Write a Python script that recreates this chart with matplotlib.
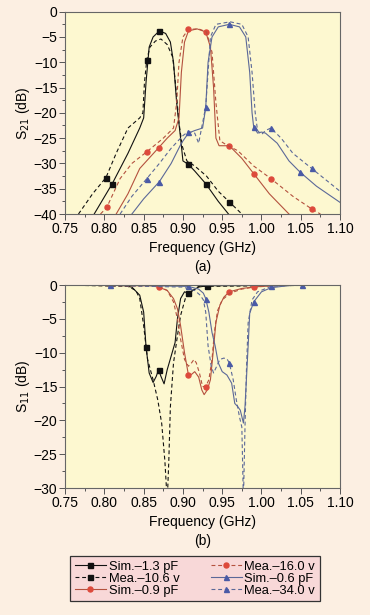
import matplotlib
matplotlib.use('Agg')
from matplotlib import pyplot as plt
from matplotlib.ticker import MultipleLocator

# ---- S21 (panel a) ----
f21_sim_k = [0.787, 0.81, 0.83, 0.845, 0.850, 0.853, 0.857, 0.862, 0.870, 0.878, 0.884, 0.888,
             0.892, 0.897, 0.900, 0.907, 0.915, 0.929, 0.945, 0.958]
s21_sim_k = [-40, -34, -28, -23, -21, -14, -7, -5, -3.8, -4.3, -6, -10,
             -18, -25, -29.5, -30.2, -31.5, -34, -37.5, -40]
f21_mea_k = [0.767, 0.785, 0.802, 0.815, 0.83, 0.845, 0.849, 0.851, 0.854, 0.858, 0.865, 0.872,
             0.880, 0.887, 0.891, 0.895, 0.899, 0.905, 0.915, 0.930, 0.945, 0.959, 0.975]
s21_mea_k = [-40, -36, -32.8, -28, -23, -21, -20, -14, -9.5, -7, -5.8, -5.4,
             -6.5, -9, -15, -22, -26.5, -29.5, -30.5, -32.5, -35.5, -37.6, -40]

f21_sim_r = [0.815, 0.83, 0.845, 0.869, 0.88, 0.89, 0.895, 0.898, 0.902, 0.907, 0.918, 0.929,
             0.935, 0.939, 0.942, 0.946, 0.959, 0.975, 0.990, 1.010, 1.035]
s21_sim_r = [-40, -36, -31, -26.9, -25, -23.5, -21, -12, -6, -3.8, -3.4, -4.0,
             -7, -15, -25, -26.5, -26.5, -29, -32, -36, -40]
f21_mea_r = [0.795, 0.803, 0.82, 0.835, 0.854, 0.875, 0.888, 0.892, 0.895, 0.900, 0.907, 0.920,
             0.930, 0.937, 0.942, 0.947, 0.955, 0.970, 0.990, 1.012, 1.040, 1.064, 1.075]
s21_mea_r = [-40, -38.7, -33, -30, -27.7, -25, -23, -18, -10, -5, -3.5, -3.4,
             -4.0, -8, -18, -25.5, -26.3, -27.5, -30.5, -33, -36.5, -39, -40]

f21_sim_b = [0.835, 0.85, 0.870, 0.885, 0.898, 0.907, 0.915, 0.925, 0.929, 0.932, 0.937, 0.945,
             0.959, 0.972, 0.980, 0.985, 0.988, 0.990, 0.995, 1.000, 1.005, 1.020, 1.035, 1.049,
             1.070, 1.100]
s21_sim_b = [-40, -37, -33.6, -30, -26, -24, -23.5, -23, -19, -10, -5, -3,
             -2.5, -3, -5, -12, -20, -22.7, -24, -23.8, -24, -26, -29.5, -31.7,
             -34.5, -37.7]
f21_mea_b = [0.82, 0.835, 0.854, 0.87, 0.885, 0.90, 0.907, 0.915, 0.92, 0.925, 0.929, 0.932,
             0.935, 0.942, 0.96, 0.975, 0.983, 0.988, 0.992, 0.995, 1.000, 1.005, 1.012, 1.025,
             1.040, 1.064, 1.080, 1.100]
s21_mea_b = [-40, -36.5, -33, -30, -27, -24.5, -23.7, -24, -26, -22, -18.8, -12,
             -5, -2.5, -2.0, -2.5, -5, -12, -20, -23.5, -24.3, -23.5, -23, -25,
             -28, -31, -33, -35.5]

# ---- S11 (panel b) ----
f11_sim_k = [0.75, 0.82, 0.835, 0.845, 0.850, 0.853, 0.857, 0.862, 0.866, 0.869, 0.872, 0.876,
             0.880, 0.885, 0.890, 0.893, 0.897, 0.902, 0.907, 0.920, 0.931, 1.10]
s11_sim_k = [0, 0, -0.3, -1.5, -4, -9.1, -13, -14.4, -13.5, -12.5, -13.5, -14.6,
             -12.5, -10.5, -8.5, -5, -2, -1.0, -1.2, -0.3, -0.1, 0]
f11_mea_k = [0.75, 0.83, 0.84, 0.845, 0.850, 0.853, 0.855, 0.862, 0.868, 0.873, 0.877, 0.880,
             0.882, 0.884, 0.888, 0.893, 0.897, 0.903, 0.907, 0.920, 1.10]
s11_mea_k = [0, -0.2, -0.8, -2, -6, -9.1, -11, -14, -17, -20.5, -26, -32,
             -26, -18, -11.5, -7.5, -4.5, -2, -1.2, -0.2, 0]

f11_sim_r = [0.75, 0.86, 0.869, 0.88, 0.888, 0.893, 0.897, 0.902, 0.907, 0.911, 0.915, 0.920,
             0.924, 0.927, 0.931, 0.935, 0.938, 0.942, 0.947, 0.952, 0.959, 0.975, 0.990, 1.02,
             1.10]
s11_sim_r = [0, -0.1, -0.3, -0.8, -2, -3.5, -6, -10, -13.3, -13.2, -12.8, -13.6,
             -15.5, -16.2, -15.5, -14, -10.5, -5.5, -3, -1.8, -1.0, -0.5, -0.3, 0,
             0]
f11_mea_r = [0.75, 0.87, 0.88, 0.888, 0.893, 0.897, 0.902, 0.907, 0.911, 0.914, 0.917, 0.921,
             0.925, 0.929, 0.933, 0.937, 0.940, 0.944, 0.950, 0.960, 0.975, 0.990, 1.03, 1.10]
s11_mea_r = [0, -0.2, -0.8, -2.5, -5, -8, -11, -12, -11.5, -11, -11.5, -13,
             -15, -15, -14, -11, -7, -3.8, -2.2, -1.2, -0.6, -0.3, 0, 0]

f11_sim_b = [0.75, 0.807, 0.907, 0.92, 0.926, 0.929, 0.933, 0.937, 0.941, 0.945, 0.950, 0.956,
             0.962, 0.966, 0.970, 0.973, 0.977, 0.979, 0.981, 0.983, 0.985, 0.990, 1.000, 1.012,
             1.04, 1.10]
s11_sim_b = [0, 0, -0.2, -0.6, -1.2, -2, -4, -7, -9, -11.5, -12.8, -13.3,
             -14.5, -17.5, -18, -18.5, -20.4, -18, -13.5, -9, -4.2, -2.5, -1.0, -0.4,
             0, 0]
f11_mea_b = [0.75, 0.80, 0.90, 0.915, 0.922, 0.926, 0.929, 0.932, 0.936, 0.939, 0.943, 0.947,
             0.952, 0.956, 0.959, 0.964, 0.968, 0.972, 0.975, 0.977, 0.979, 0.981, 0.983, 0.988,
             0.995, 1.012, 1.051, 1.10]
s11_mea_b = [0, -0.05, -0.3, -0.8, -1.5, -2.2, -4, -9, -12, -13, -12, -11,
             -10.8, -10.9, -11.5, -14, -17, -19.5, -21, -32, -21, -12, -5.6, -2.2,
             -1.0, -0.2, 0, 0]

freq_ticks = [0.75, 0.80, 0.85, 0.90, 0.95, 1.00, 1.05, 1.10]
labels = ['Sim.\u20131.3 pF', 'Mea.\u201310.6 v', 'Sim.\u20130.9 pF',
          'Mea.\u201316.0 v', 'Sim.\u20130.6 pF', 'Mea.\u201334.0 v']

BLACK = '#111111'
RED_LINE = '#b4513e'
RED_MK = '#dd4a3c'
BLUE_LINE = '#5b6898'
BLUE_MK = '#4a5aa6'

plt.rcParams['font.family'] = ['Liberation Sans', 'DejaVu Sans']
plt.rcParams['font.size'] = 10

fig = plt.figure(figsize=(3.7, 6.15), dpi=100, facecolor='#fcefe2')
ax1 = fig.add_axes([0.176, 0.652, 0.743, 0.329])
ax2 = fig.add_axes([0.176, 0.2065, 0.743, 0.330])


def series(ax, f, s, ls, color, mcolor, marker, marks):
    return ax.plot(f, s, ls=ls, color=color, lw=0.8, marker=marker, ms=3.6,
                   mfc=mcolor, mec=mcolor, markevery=marks,
                   dashes=(3.5, 2.5) if ls == '--' else (None, None))[0]


# panel (a)
series(ax1, f21_sim_k, s21_sim_k, '-', BLACK, BLACK, 's', [1, 8, 15, 17])
series(ax1, f21_mea_k, s21_mea_k, '--', BLACK, BLACK, 's', [2, 8, 21])
series(ax1, f21_sim_r, s21_sim_r, '-', RED_LINE, RED_MK, 'o', [3, 11, 16, 18])
series(ax1, f21_mea_r, s21_mea_r, '--', RED_LINE, RED_MK, 'o', [1, 4, 10, 19, 21])
series(ax1, f21_sim_b, s21_sim_b, '-', BLUE_LINE, BLUE_MK, '^', [2, 12, 17, 23])
series(ax1, f21_mea_b, s21_mea_b, '--', BLUE_LINE, BLUE_MK, '^', [2, 6, 10, 22, 25])

# panel (b)
h = []
h.append(series(ax2, f11_sim_k, s11_sim_k, '-', BLACK, BLACK, 's', [9, 20]))
h.append(series(ax2, f11_mea_k, s11_mea_k, '--', BLACK, BLACK, 's', [5, 18]))
h.append(series(ax2, f11_sim_r, s11_sim_r, '-', RED_LINE, RED_MK, 'o', [2, 8, 20]))
h.append(series(ax2, f11_mea_r, s11_mea_r, '--', RED_LINE, RED_MK, 'o', [13, 21]))
h.append(series(ax2, f11_sim_b, s11_sim_b, '-', BLUE_LINE, BLUE_MK, '^', [1, 2, 5, 21]))
h.append(series(ax2, f11_mea_b, s11_mea_b, '--', BLUE_LINE, BLUE_MK, '^', [14, 25, 26]))

for ax, ylim, step, ylab, tag in [(ax1, (-40, 0), 5, 'S$_{21}$ (dB)', '(a)'),
                                   (ax2, (-30, 0), 5, 'S$_{11}$ (dB)', '(b)')]:
    ax.set_facecolor('#fdf8d0')
    ax.set_xlim(0.75, 1.10)
    ax.set_ylim(*ylim)
    ax.set_xticks(freq_ticks)
    ax.set_xticklabels(['%.2f' % t for t in freq_ticks])
    ax.xaxis.set_minor_locator(MultipleLocator(0.025))
    ax.yaxis.set_major_locator(MultipleLocator(step))
    ax.yaxis.set_minor_locator(MultipleLocator(step / 2))
    ax.tick_params(which='both', direction='out', color='#555555', width=0.7, pad=1.5)
    ax.tick_params(which='major', length=4)
    ax.tick_params(which='minor', length=2)
    for sp in ax.spines.values():
        sp.set_color('#666666')
        sp.set_linewidth(0.8)
    ax.set_xlabel('Frequency (GHz)\n' + tag, labelpad=4, linespacing=1.45)
    ax.set_ylabel(ylab, labelpad=1)

leg = fig.legend(h, labels, ncol=2, loc='upper left',
                 bbox_to_anchor=(0.173, 0.013, 0.708, 0.093),
                 mode='expand', fontsize=9.3, frameon=True, fancybox=False,
                 handlelength=2.4, handletextpad=0.2, columnspacing=0.6,
                 labelspacing=0.0, borderpad=0.35)
leg.get_frame().set_facecolor('#f8d8d8')
leg.get_frame().set_edgecolor('#333333')
leg.get_frame().set_linewidth(0.9)
leg.get_frame().set_alpha(1)

fig.savefig('out.png', dpi=100, facecolor=fig.get_facecolor())
